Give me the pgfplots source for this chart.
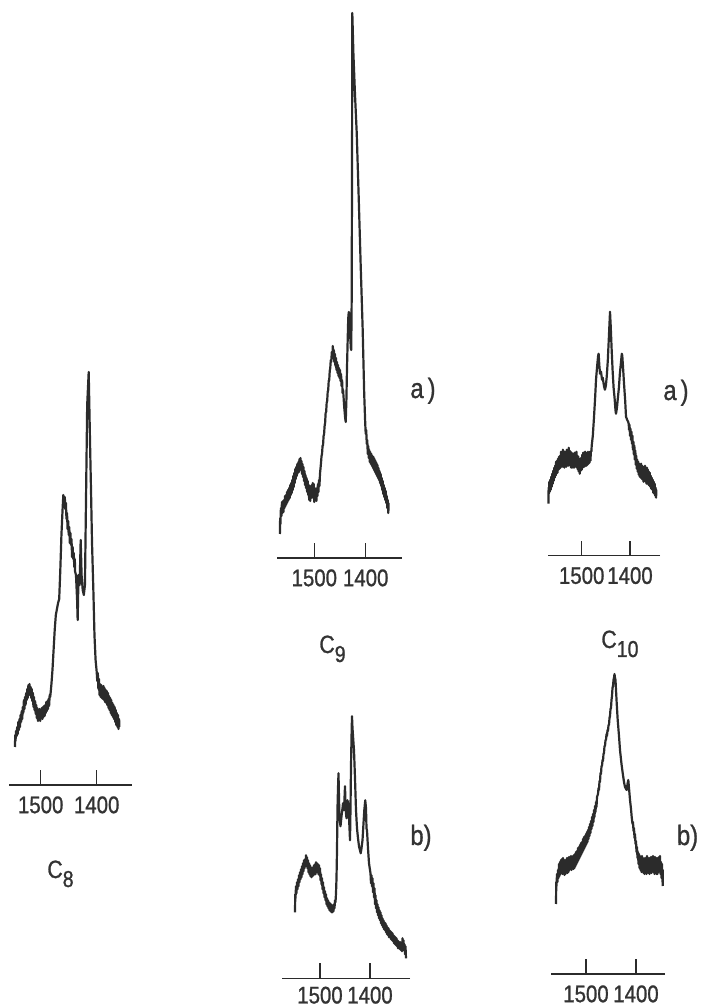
\documentclass[border=0pt]{standalone}
\usepackage{pgfplots}
\pgfplotsset{compat=1.18}
\usepackage{fontspec}
\setmainfont{Liberation Sans}[FakeStretch=0.85, FakeBold=1]
\definecolor{ink}{HTML}{2B2B2B}
\definecolor{txt}{HTML}{333333}
\newcommand{\tickfont}{\fontsize{12}{12}\selectfont}
\newcommand{\labfont}{\fontsize{12.5}{12.5}\selectfont}
\newcommand{\subfont}{\fontsize{11.5}{11.5}\selectfont}
\newcommand{\abfont}{\fontsize{14}{14}\selectfont}
\pgfplotsset{spec/.style={
  scale only axis, clip=false, anchor=south west,
  x dir=reverse,
  axis x line=bottom, axis y line=none,
  x axis line style={-, line width=0.7pt, color=ink},
  xtick={1400,1500}, minor tick num=0,
  tick align=inside,
  major tick length=7.5pt,
  tick style={line width=0.7pt, color=ink},
  ymin=0,
  xticklabel style={font=\tickfont, text=txt, inner sep=0pt, anchor=north, yshift=-5.5pt},
  /pgf/number format/assume math mode=true,
  /pgf/number format/1000 sep={},
}, trace/.style={line width=1.1pt, color=ink, line join=round, mark=none}}
\begin{document}
\begin{tikzpicture}
\path[use as bounding box] (0,0) rectangle (351pt,503.5pt);
% ---------------- C8 ----------------
\begin{axis}[spec, at={(4.65pt,111pt)}, width=61.2pt, height=210pt,
  xmin=1337.5, xmax=1556.1, ymax=420]
\addplot[trace] coordinates {
(1546,38)(1545.5,50)(1545,44)(1544,54)(1543,49)(1542,58)(1541,51)(1540,63)(1539,55)(1538,66)
(1537,58)(1536,70)(1535,63)(1534,74)(1533,66)(1532,78)(1531,72)(1530,85)(1529,76)(1528,88)
(1527,80)(1526,92)(1525,85)(1524,96)(1523,87)(1522,100)(1521,91)(1520,101)(1519,90)(1518,98)
(1517,87)(1516,96)(1515,84)(1514,92)(1513,78)(1512,88)(1511,75)(1510,84)(1509,71)(1508,80)
(1507,67)(1506,77)(1505,64)(1504,75)(1503,65)(1502,76)(1501,64)(1500,75)(1499,67)(1498,77)
(1497,66)(1496,78)(1495,68)(1494,79)(1493,69)(1492,80)(1491,72)(1490,83)(1489,74)(1488,84)
(1487,76)(1486,86)(1485,79)(1484,90)(1483,88)(1481,100)(1479,115)(1477,135)(1475,155)(1473,170)
(1471,176)(1469,182)(1467,186)(1465,215)(1463,250)(1461,275)(1459.6,290)(1458,280)(1457,288)(1456,276)
(1455,282)(1454,266)(1453,272)(1452,256)(1451,264)(1450,250)(1449,258)(1448,242)(1447,252)(1446,240)
(1445,246)(1444,228)(1443,238)(1442,226)(1441,232)(1440,218)(1439,226)(1438.8,214)(1437,210)(1435,185)
(1434,165)(1432.5,210)(1430.5,200)(1428.6,245)(1427,210)(1425,195)(1423,190)(1421,200)(1419,290)(1417,380)
(1414.3,413)(1412,345)(1410,290)(1408.4,243)(1406,195)(1404,150)(1402,125)(1400,113)(1399,104)(1398,112)
(1397,96)(1396,106)(1395,90)(1394,101)(1393,88)(1392,100)(1391,87)(1390,98)(1389,86)(1388,99)
(1387,85)(1386,97)(1385,83)(1384,95)(1383,82)(1382,94)(1381,80)(1380,92)(1379,77)(1378,89)
(1377,75)(1376,87)(1375,72)(1374,85)(1373,70)(1372,82)(1371,68)(1370,80)(1369,66)(1368,78)
(1367,63)(1366,75)(1365,60)(1364,72)(1363,58)(1362,70)(1361,56)(1360,66)(1359.5,58)
};
\end{axis}
% ---------------- C9 a ----------------
\begin{axis}[spec, at={(138.35pt,224.5pt)}, width=62.5pt, height=275pt,
  xmin=1330, xmax=1573.2, ymax=550]
\addplot[trace] coordinates {
(1567,24)(1566.5,40)(1566,34)(1565,50)(1564,42)(1563,56)(1562,45)(1561,57)(1560,46)(1559,58)
(1558,50)(1557,62)(1556,52)(1555,63)(1554,54)(1553,66)(1552,56)(1551,68)(1550,58)(1549,70)
(1548,60)(1547,73)(1546,63)(1545,75)(1544,65)(1543,78)(1542,68)(1541,82)(1540,71)(1539,85)
(1538,75)(1537,89)(1536,79)(1535,91)(1534,82)(1533,94)(1532,85)(1531,96)(1530,86)(1529,99)
(1528,89)(1527,100)(1526,88)(1525,97)(1524,84)(1523,94)(1522,81)(1521,91)(1520,77)(1519,87)
(1518,73)(1517,83)(1516,70)(1515,80)(1514,66)(1513,77)(1512,63)(1511,73)(1510,58)(1509,70)
(1508,57)(1507,72)(1506,60)(1505,73)(1504,61)(1503,75)(1502,60)(1501,74)(1500,56)(1499,70)
(1498,58)(1497,68)(1496,57)(1495,70)(1494,62)(1493,74)(1492,66)(1491,78)(1490,72)(1489,84)
(1487,95)(1486,102)(1485,104)(1484,112)(1483,113)(1482,122)(1481,124)(1480,132)(1479,135)(1478,145)
(1477,146)(1476,155)(1475,157)(1474,166)(1473,168)(1472,177)(1471,178)(1470,187)(1469,190)(1468,198)
(1467,196)(1466,206)(1465,200)(1464,212)(1463,200)(1462,208)(1461,196)(1460,204)(1459,192)(1458,200)
(1457,188)(1456,196)(1455,185)(1454,193)(1453,182)(1452,190)(1451,180)(1450,188)(1449,177)(1448,184)
(1447,172)(1446,178)(1445,165)(1444,168)(1442,152)(1440,140)(1438.9,136)(1437.5,160)(1436.4,191)(1435,220)
(1434,240)(1433,246)(1432,244)(1431,230)(1430.2,222)(1429,210)(1428.2,208)(1427.3,260)(1426.6,400)(1426.1,545)
(1424,505)(1421,465)(1417.5,425)(1413.5,358)(1409.7,291)(1406,230)(1403,165)(1401,135)(1400,124)(1399,128)
(1398,114)(1397,118)(1396,104)(1395,112)(1394,100)(1393,108)(1392,96)(1391,106)(1390,94)(1389,104)
(1388,92)(1387,102)(1386,90)(1385,101)(1384,88)(1383,99)(1382,86)(1381,97)(1380,84)(1379,95)
(1378,82)(1377,93)(1376,80)(1375,90)(1374,78)(1373,87)(1372,75)(1371,84)(1370,72)(1369,80)
(1368,68)(1367,77)(1366,64)(1365,73)(1364,61)(1363,70)(1362,58)(1361,67)(1360,55)(1359,62)
(1358,50)(1357,58)(1356,45)(1355.5,55)
};
\end{axis}
% ---------------- C9 b ----------------
\begin{axis}[spec, at={(140.85pt,14.35pt)}, width=64.15pt, height=132.5pt,
  xmin=1320, xmax=1576.6, ymax=265, xticklabel style={yshift=1.5pt}]
\addplot[trace] coordinates {
(1550,66)(1549.5,84)(1549,80)(1548,92)(1547,85)(1546,96)(1545,89)(1544,99)(1543,92)(1542,103)
(1541,96)(1540,106)(1539,99)(1538,109)(1537,101)(1536,112)(1535,104)(1534,115)(1533,107)(1532,118)
(1531,110)(1530,119)(1529,112)(1528,123)(1527,115)(1526,121)(1525,110)(1524,118)(1523,106)(1522,115)
(1521,104)(1520,113)(1519,102)(1518,111)(1517,101)(1516,110)(1515,102)(1514,111)(1513,103)(1512,113)
(1511,104)(1510,114)(1509,104)(1508,116)(1507,106)(1506,115)(1505,106)(1504,114)(1503,104)(1502,113)
(1501,103)(1500,110)(1499,98)(1498,104)(1497,94)(1496,100)(1495,89)(1494,96)(1493,85)(1492,91)
(1491,81)(1490,87)(1489,78)(1488,84)(1487,74)(1486,80)(1485,72)(1484,78)(1483,70)(1482,76)
(1481,68)(1480,75)(1479,67)(1478,74)(1477,66)(1476,73)(1475,66)(1474,72)(1473,67)(1472,74)
(1471,70)(1470,78)(1469,76)(1468,85)(1467,100)(1466,128)(1465,170)(1464,190)(1463,205)(1462,180)
(1461,160)(1459,152)(1457,162)(1455,170)(1454,175)(1452,168)(1451,180)(1450,192)(1449,175)(1448,165)
(1447,160)(1446,170)(1445,178)(1443,172)(1441,150)(1440,138)(1439,170)(1438,212)(1437,240)(1436,262)
(1435,250)(1433,235)(1432,228)(1430,200)(1428,168)(1426,150)(1424,140)(1422,132)(1420,128)(1418.6,125)
(1417,130)(1415,138)(1413,155)(1411.4,168)(1409.5,178)(1408,170)(1407,150)(1406,148)(1404,130)(1402,115)
(1399,105)(1398,95)(1397,103)(1396,92)(1395,100)(1394,86)(1393,95)(1392,81)(1391,90)(1390,74)
(1389,83)(1388,70)(1387,78)(1386,66)(1385,74)(1384,63)(1383,71)(1382,60)(1381,68)(1380,58)
(1379,66)(1378,55)(1377,63)(1376,53)(1375,60)(1374,51)(1373,58)(1372,49)(1371,56)(1370,48)
(1369,55)(1368,46)(1367,53)(1366,44)(1365,51)(1364,43)(1363,50)(1362,41)(1361,48)(1360,41)
(1359,47)(1358,39)(1357,46)(1356,38)(1355,45)(1354,37)(1353,43)(1352,35)(1351,42)(1350,34)
(1349,41)(1348,33)(1347,40)(1346,32)(1345,38)(1344,30)(1343,37)(1342,30)(1341,36)(1340,29)
(1339,36)(1338,28)(1337,35)(1336,27)(1335,40)(1334,30)(1333,38)(1332,28)(1331,34)(1330,24)
(1329,32)(1328,20)
};
\end{axis}
% ---------------- C10 a ----------------
\begin{axis}[spec, at={(274.15pt,225.65pt)}, width=55.85pt, height=125pt,
  xmin=1337.9, xmax=1569.2, ymax=250]
\addplot[trace] coordinates {
(1569,52)(1568.5,68)(1568,62)(1567,74)(1566,64)(1565,76)(1564,66)(1563,79)(1562,69)(1561,82)
(1560,72)(1559,85)(1558,75)(1557,88)(1556,78)(1555,90)(1554,80)(1553,94)(1552,82)(1551,95)
(1550,83)(1549,97)(1548,86)(1547,99)(1546,87)(1545,100)(1544,88)(1543,104)(1542,90)(1541,102)
(1540,89)(1539,106)(1538,90)(1537,103)(1536,88)(1535,104)(1534,90)(1533,102)(1532,89)(1531,106)
(1530,91)(1529,104)(1528,90)(1527,108)(1526,92)(1525,105)(1524,90)(1523,104)(1522,88)(1521,103)
(1520,88)(1519,102)(1518,89)(1517,101)(1516,88)(1515,103)(1514,89)(1513,102)(1512,90)(1511,104)
(1510,88)(1509,100)(1508,86)(1507,99)(1506,84)(1505,96)(1504,82)(1503,97)(1502,85)(1501,98)
(1500,86)(1499,101)(1498,88)(1497,103)(1496,90)(1495,102)(1494,89)(1493,104)(1492,90)(1491,103)
(1490,90)(1489,102)(1488,91)(1487,104)(1486,92)(1485,103)(1484,93)(1483,104)(1482,95)(1481,104)
(1480,104)(1479.3,110)(1477,120)(1474.5,139)(1472,160)(1470.4,176)(1468,190)(1466,200)(1465,202)(1463.5,190)
(1462,182)(1460,184)(1458,176)(1456.5,178)(1454,170)(1452,166)(1450,170)(1448.2,179)(1446,195)(1444,216)
(1442.5,232)(1441.4,244)(1440,230)(1438,206)(1436,185)(1434,168)(1432,158)(1430,145)(1429,142)(1427,148)
(1425.5,156)(1423,168)(1421,182)(1419,192)(1417,202)(1416,200)(1414,185)(1412.4,172)(1410,155)(1408.3,139)
(1406,136)(1404,134)(1402.7,132)(1402,126)(1401,131)(1400,120)(1399,127)(1398,116)(1397,124)(1396,112)
(1395,120)(1394,106)(1393,114)(1392,101)(1391,110)(1390,96)(1389,105)(1388,91)(1387,100)(1386,87)
(1385,96)(1384,84)(1383,94)(1382,81)(1381,92)(1380,79)(1379,91)(1378,78)(1377,92)(1376,77)
(1375,90)(1374,76)(1373,89)(1372,74)(1371,88)(1370,76)(1369,90)(1368,74)(1367,86)(1366,72)
(1365,88)(1364,74)(1363,86)(1362,71)(1361,84)(1360,70)(1359,83)(1358,69)(1357,80)(1356,67)
(1355,78)(1354,66)(1353,76)(1352,63)(1351,74)(1350,62)(1349,72)(1348,60)(1347,68)(1346,58)(1345.5,66)
};
\end{axis}
% ---------------- C10 b ----------------
\begin{axis}[spec, at={(275.35pt,16.5pt)}, width=57.15pt, height=150pt,
  xmin=1342, xmax=1570.6, ymax=300]
\addplot[trace] coordinates {
(1560,70)(1559.5,92)(1559,88)(1558,100)(1557,92)(1556,104)(1555,96)(1554,110)(1553,98)(1552,112)
(1551,100)(1550,114)(1549,102)(1548,115)(1547,100)(1546,116)(1545,101)(1544,112)(1543,99)(1542,114)
(1541,100)(1540,112)(1539,102)(1538,116)(1537,101)(1536,114)(1535,102)(1534,117)(1533,104)(1532,116)
(1531,105)(1530,118)(1529,104)(1528,117)(1527,106)(1526,118)(1525,105)(1524,119)(1523,106)(1522,120)
(1521,108)(1520,122)(1519,110)(1518,123)(1517,112)(1516,126)(1515,114)(1514,127)(1513,116)(1512,129)
(1511,118)(1510,131)(1509,120)(1508,132)(1507,122)(1506,135)(1505,124)(1504,137)(1503,126)(1502,138)
(1501,128)(1500,140)(1499,130)(1498,142)(1497,132)(1496,144)(1495,135)(1494,147)(1493,138)(1492,150)
(1491,141)(1490,153)(1489,145)(1488,157)(1487,148)(1486,160)(1485,152)(1484,164)(1483,157)(1482,168)
(1481,162)(1480,172)(1479,167)(1478,177)(1476,180)(1475,186)(1474,184)(1473,193)(1472,192)(1471,201)
(1470,200)(1469,208)(1468,208)(1467,214)(1466,213)(1465,220)(1464,221)(1463,228)(1462,228)(1461,234)
(1460,234)(1459,240)(1458,238)(1457,244)(1456,243)(1455,249)(1454,249)(1453,256)(1452,258)(1451,265)
(1450,266)(1449,274)(1448,278)(1447,286)(1446,288)(1445,294)(1444,296)(1443,300)(1442,296)(1441,294)
(1440,284)(1438.5,270)(1436.6,254)(1434,238)(1432,224)(1429,210)(1426.6,201)(1424,192)(1422,187)(1420,185)
(1418.6,184)(1417,190)(1415.4,194)(1414,186)(1412,174)(1410,165)(1408.6,157)(1407,150)(1406,152)(1405,143)
(1404,146)(1403,136)(1402,140)(1401,130)(1400,133)(1399,122)(1398,127)(1397,116)(1396,122)(1395,110)
(1394,120)(1393,106)(1392,118)(1391,104)(1390,116)(1389,102)(1388,118)(1387,103)(1386,116)(1385,101)
(1384,114)(1383,100)(1382,116)(1381,101)(1380,114)(1379,100)(1378,118)(1377,102)(1376,115)(1375,101)
(1374,116)(1373,100)(1372,114)(1371,102)(1370,117)(1369,101)(1368,114)(1367,103)(1366,118)(1365,102)
(1364,115)(1363,100)(1362,117)(1361,101)(1360,114)(1359,100)(1358,116)(1357,100)(1356,114)(1355,102)
(1354,117)(1353,104)(1352,118)(1351,100)(1350,112)(1349,96)(1348,110)(1347,92)(1346.6,104)(1346.5,88)
};
\end{axis}
% ---------------- labels ----------------
\begin{scope}[every node/.style={inner sep=0pt, text=txt, anchor=base west}]
\node at (23.5pt,64.5pt) {\labfont C\raisebox{-4.5pt}{\subfont 8}};
\node at (159.5pt,177pt) {\labfont C\raisebox{-4.5pt}{\subfont 9}};
\node at (300.5pt,179.5pt) {\labfont C\raisebox{-4.5pt}{\subfont 10}};
\node at (205pt,304.5pt) {\abfont a\hspace{2pt})};
\node at (331.5pt,303.5pt) {\abfont a\hspace{2pt})};
\node at (205pt,81pt) {\abfont b)};
\node at (338.3pt,81pt) {\abfont b)};
\end{scope}
\end{tikzpicture}
\end{document}
